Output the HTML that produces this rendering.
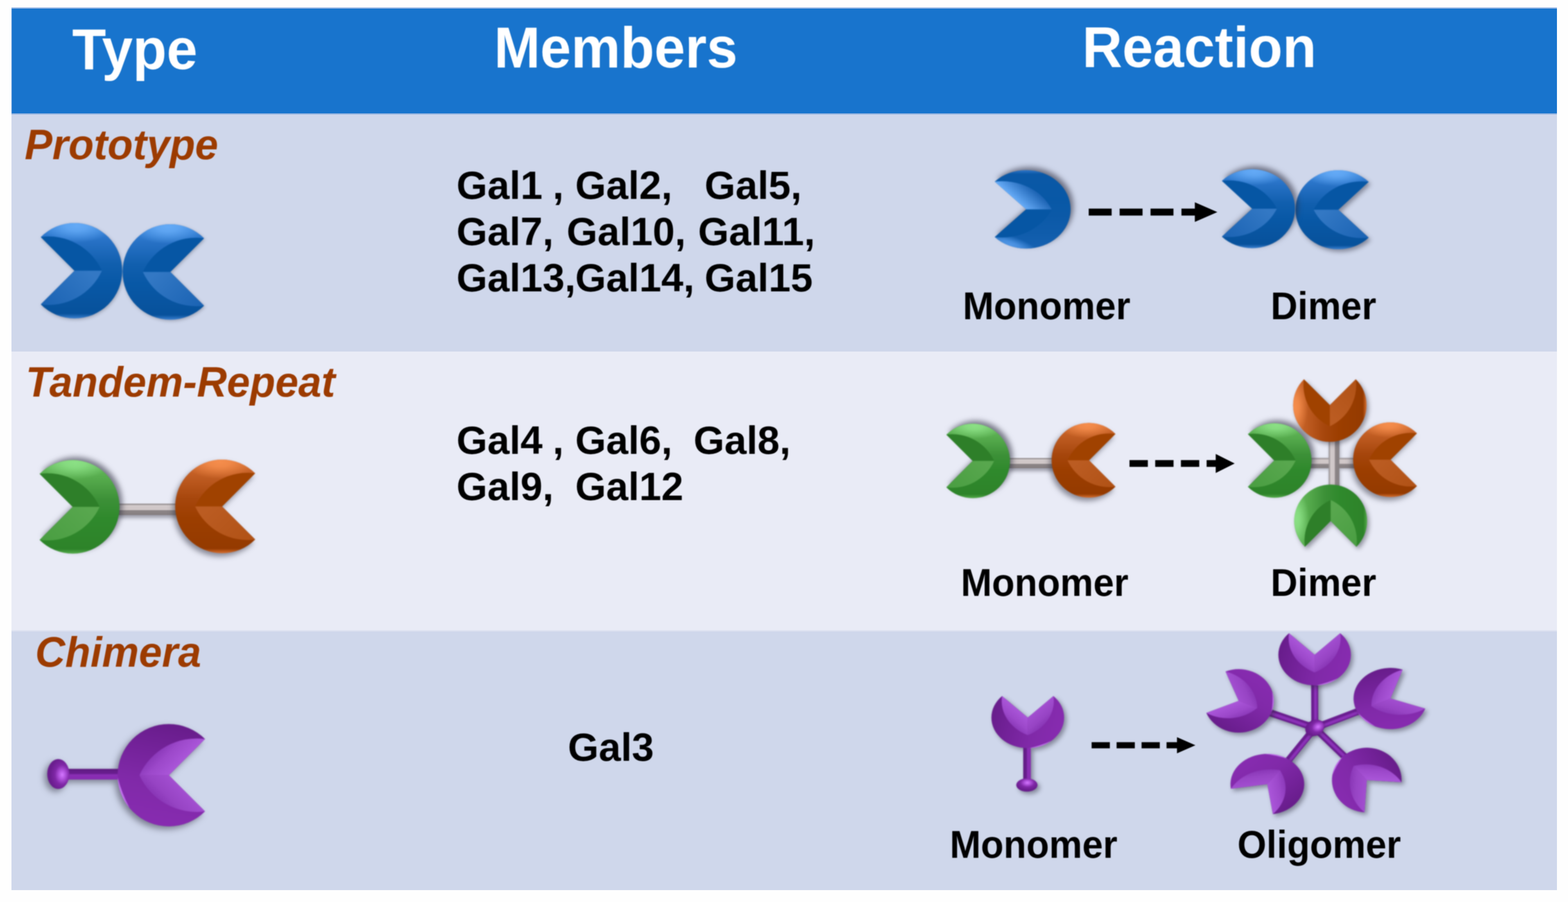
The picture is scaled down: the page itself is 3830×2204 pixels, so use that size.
<!DOCTYPE html>
<html lang="en"><head><meta charset="utf-8"><title>Galectin types</title>
<style>
html,body{margin:0;padding:0;background:#fefefe;}
body{width:3830px;height:2204px;overflow:hidden;position:relative;}
.row{position:absolute;left:28px;width:3775px;}
#hdr{top:18px;height:262px;background:#1874cd;box-shadow:inset 0 3px 0 #9dbce6, inset 0 -3px 0 #9bb7e0, inset 2px 0 0 #3a84d2;}
#r1{top:280px;height:579px;background:#cfd7eb;}
#r2{top:859px;height:681px;background:#e9ebf6;}
#r3{top:1540px;height:635px;background:#cfd7eb;box-shadow:inset 0 3px 0 #dce1f0;}
svg{position:absolute;left:0;top:0;width:3830px;height:2204px;}
text{font-family:"Liberation Sans",sans-serif;font-weight:700;}
.h{fill:#fff;} .t{fill:#9c3a00;font-style:italic;} .m{fill:#000;} .l{fill:#000;}
</style></head><body>
<div class="row" id="hdr"></div><div class="row" id="r1"></div><div class="row" id="r2"></div><div class="row" id="r3"></div>
<svg viewBox="0 0 3830 2204" width="3830" height="2204">
<defs>
<linearGradient id="blueO" gradientUnits="userSpaceOnUse" x1="0" y1="-1" x2="0" y2="1"><stop offset="0" stop-color="#3a86dc"/><stop offset="0.2" stop-color="#2670c4"/><stop offset="0.42" stop-color="#115fae"/><stop offset="0.62" stop-color="#0858a6"/><stop offset="0.95" stop-color="#07519b"/><stop offset="1" stop-color="#3a80d0"/></linearGradient>
<radialGradient id="blueH" gradientUnits="userSpaceOnUse" cx="0" cy="0" r="1" gradientTransform="translate(-0.05,-0.95) scale(0.78,0.36)"><stop offset="0" stop-color="#64aaf6" stop-opacity="1"/><stop offset="0.3" stop-color="#64aaf6" stop-opacity="0.85"/><stop offset="1" stop-color="#64aaf6" stop-opacity="0"/></radialGradient>
<linearGradient id="blueL" gradientUnits="userSpaceOnUse" x1="-0.3" y1="0" x2="0.5" y2="0.8"><stop offset="0" stop-color="#3378c4"/><stop offset="1" stop-color="#1c64b4"/></linearGradient>
<g id="pac_blue"><path d="M0,0 L0.707,-0.707 A1,1 0 1,0 0.707,0.707 Z" fill="url(#blueO)"/><path d="M0,0 L0.707,-0.707 A1,1 0 1,0 0.707,0.707 Z" fill="url(#blueH)"/><path d="M0,0 L0.707,-0.707 A1.23,1.23 0 0,0 -0.575,0 Z" fill="#0656a4"/><path d="M0,0 L-0.575,0 A1.23,1.23 0 0,0 0.707,0.707 Z" fill="url(#blueL)"/></g>
<linearGradient id="bluemO" gradientUnits="userSpaceOnUse" x1="0" y1="-1" x2="0" y2="1"><stop offset="0" stop-color="#1561b1"/><stop offset="0.2" stop-color="#0f5cab"/><stop offset="0.42" stop-color="#0b59a7"/><stop offset="0.62" stop-color="#0858a6"/><stop offset="0.95" stop-color="#0a58a6"/><stop offset="1" stop-color="#2f76c8"/></linearGradient>
<radialGradient id="bluemH" gradientUnits="userSpaceOnUse" cx="0" cy="0" r="1" gradientTransform="translate(0.35,-0.9) rotate(22) scale(0.72,0.22)"><stop offset="0" stop-color="#5096e6" stop-opacity="1"/><stop offset="0.3" stop-color="#5096e6" stop-opacity="0.85"/><stop offset="1" stop-color="#5096e6" stop-opacity="0"/></radialGradient>
<linearGradient id="bluemL" gradientUnits="userSpaceOnUse" x1="0.3" y1="0.3" x2="-0.02" y2="0.62"><stop offset="0" stop-color="#66abf7"/><stop offset="1" stop-color="#1f66b6"/></linearGradient>
<g id="pac_bluem"><path d="M0,0 L0.707,-0.707 A1,1 0 1,0 0.707,0.707 Z" fill="url(#bluemO)"/><path d="M0,0 L0.707,-0.707 A1,1 0 1,0 0.707,0.707 Z" fill="url(#bluemH)"/><path d="M0,0 L0.707,-0.707 A1.23,1.23 0 0,0 -0.575,0 Z" fill="#0656a4"/><path d="M0,0 L-0.575,0 A1.23,1.23 0 0,0 0.707,0.707 Z" fill="url(#bluemL)"/></g>
<linearGradient id="greenO" gradientUnits="userSpaceOnUse" x1="0" y1="-1" x2="0" y2="1"><stop offset="0" stop-color="#68bd5f"/><stop offset="0.2" stop-color="#55aa4c"/><stop offset="0.42" stop-color="#3c9037"/><stop offset="0.62" stop-color="#2f892c"/><stop offset="0.95" stop-color="#2d8329"/><stop offset="1" stop-color="#55ac4b"/></linearGradient>
<radialGradient id="greenH" gradientUnits="userSpaceOnUse" cx="0" cy="0" r="1" gradientTransform="translate(-0.05,-0.95) scale(0.78,0.36)"><stop offset="0" stop-color="#8be085" stop-opacity="1"/><stop offset="0.3" stop-color="#8be085" stop-opacity="0.85"/><stop offset="1" stop-color="#8be085" stop-opacity="0"/></radialGradient>
<linearGradient id="greenL" gradientUnits="userSpaceOnUse" x1="-0.3" y1="0" x2="0.5" y2="0.8"><stop offset="0" stop-color="#58a74e"/><stop offset="1" stop-color="#4a9e42"/></linearGradient>
<g id="pac_green"><path d="M0,0 L0.707,-0.707 A1,1 0 1,0 0.707,0.707 Z" fill="url(#greenO)"/><path d="M0,0 L0.707,-0.707 A1,1 0 1,0 0.707,0.707 Z" fill="url(#greenH)"/><path d="M0,0 L0.707,-0.707 A1.23,1.23 0 0,0 -0.575,0 Z" fill="#2e7f29"/><path d="M0,0 L-0.575,0 A1.23,1.23 0 0,0 0.707,0.707 Z" fill="url(#greenL)"/></g>
<linearGradient id="orangeO" gradientUnits="userSpaceOnUse" x1="0" y1="-1" x2="0" y2="1"><stop offset="0" stop-color="#d26c30"/><stop offset="0.2" stop-color="#bd5a20"/><stop offset="0.42" stop-color="#a6460c"/><stop offset="0.62" stop-color="#9c3e00"/><stop offset="0.95" stop-color="#943a00"/><stop offset="1" stop-color="#d87030"/></linearGradient>
<radialGradient id="orangeH" gradientUnits="userSpaceOnUse" cx="0" cy="0" r="1" gradientTransform="translate(-0.05,-0.95) scale(0.78,0.36)"><stop offset="0" stop-color="#f58d4c" stop-opacity="1"/><stop offset="0.3" stop-color="#f58d4c" stop-opacity="0.85"/><stop offset="1" stop-color="#f58d4c" stop-opacity="0"/></radialGradient>
<linearGradient id="orangeL" gradientUnits="userSpaceOnUse" x1="-0.3" y1="0" x2="0.5" y2="0.8"><stop offset="0" stop-color="#bb5c22"/><stop offset="1" stop-color="#b15216"/></linearGradient>
<g id="pac_orange"><path d="M0,0 L0.707,-0.707 A1,1 0 1,0 0.707,0.707 Z" fill="url(#orangeO)"/><path d="M0,0 L0.707,-0.707 A1,1 0 1,0 0.707,0.707 Z" fill="url(#orangeH)"/><path d="M0,0 L0.707,-0.707 A1.23,1.23 0 0,0 -0.575,0 Z" fill="#a04200"/><path d="M0,0 L-0.575,0 A1.23,1.23 0 0,0 0.707,0.707 Z" fill="url(#orangeL)"/></g>
<linearGradient id="purO" gradientUnits="userSpaceOnUse" x1="0.2" y1="-1" x2="-0.2" y2="1"><stop offset="0" stop-color="#671c8a"/><stop offset="0.3" stop-color="#74229a"/><stop offset="0.6" stop-color="#8029a8"/><stop offset="1" stop-color="#872bb0"/></linearGradient>
<linearGradient id="purU" gradientUnits="userSpaceOnUse" x1="0.35" y1="-0.35" x2="0" y2="-0.7"><stop offset="0" stop-color="#aa56d9"/><stop offset="0.6" stop-color="#9c48ca"/><stop offset="1" stop-color="#8a38b8"/></linearGradient>
<linearGradient id="purL" gradientUnits="userSpaceOnUse" x1="0.35" y1="0.35" x2="0" y2="0.7"><stop offset="0" stop-color="#a24ed0"/><stop offset="0.6" stop-color="#9744c4"/><stop offset="1" stop-color="#8835b5"/></linearGradient>
<radialGradient id="purRim" gradientUnits="userSpaceOnUse" cx="0" cy="0" r="1"><stop offset="0.9" stop-color="#c272f0" stop-opacity="0"/><stop offset="1" stop-color="#c272f0" stop-opacity="1"/></radialGradient>
<radialGradient id="purBall" gradientUnits="userSpaceOnUse" cx="0.35" cy="0.05" r="1.1"><stop offset="0" stop-color="#d478ff"/><stop offset="0.25" stop-color="#b455e0"/><stop offset="0.6" stop-color="#7f27a6"/><stop offset="1" stop-color="#6a1d8e"/></radialGradient>
<linearGradient id="purStem" gradientUnits="userSpaceOnUse" x1="0" y1="-1" x2="0" y2="1"><stop offset="0" stop-color="#5e1a80"/><stop offset="0.45" stop-color="#6a1e90"/><stop offset="0.55" stop-color="#8a2eb4"/><stop offset="1" stop-color="#862bb0"/></linearGradient>
<g id="pac_purple"><path d="M0,0 L0.707,-0.707 A1,1 0 1,0 0.707,0.707 Z" fill="url(#purO)"/><path d="M-0.999,0.04 A1,1 0 0,0 -0.766,0.643 A2.6,2.6 0 0,1 -0.999,0.04 Z" fill="#c878f4" opacity="0.9"/><path d="M0,0 L0.707,-0.707 A1.23,1.23 0 0,0 -0.575,0 Z" fill="url(#purU)"/><path d="M0,0 L-0.575,0 A1.23,1.23 0 0,0 0.707,0.707 Z" fill="url(#purL)"/></g>
<linearGradient id="barH" gradientUnits="userSpaceOnUse" x1="0" y1="0" x2="0" y2="1"><stop offset="0" stop-color="#9e989a"/><stop offset="0.12" stop-color="#a9a2a4"/><stop offset="0.16" stop-color="#d2cacb"/><stop offset="0.55" stop-color="#cfc6c7"/><stop offset="0.6" stop-color="#8d8688"/><stop offset="1" stop-color="#857e80"/></linearGradient>
<filter id="shA" x="-30%" y="-30%" width="160%" height="160%" color-interpolation-filters="sRGB"><feGaussianBlur in="SourceAlpha" stdDeviation="7" result="b"/><feOffset in="b" dx="7" dy="-7" result="o"/><feFlood flood-color="#2a2a3a" flood-opacity="0.58"/><feComposite in2="o" operator="in" result="s"/><feGaussianBlur in="SourceGraphic" stdDeviation="1.6" result="g"/><feMerge><feMergeNode in="s"/><feMergeNode in="g"/></feMerge></filter>
<filter id="shB" x="-30%" y="-30%" width="160%" height="160%" color-interpolation-filters="sRGB"><feGaussianBlur in="SourceAlpha" stdDeviation="7" result="b"/><feOffset in="b" dx="-5" dy="8" result="o"/><feFlood flood-color="#2a2a3a" flood-opacity="0.5"/><feComposite in2="o" operator="in" result="s"/><feGaussianBlur in="SourceGraphic" stdDeviation="1.6" result="g"/><feMerge><feMergeNode in="s"/><feMergeNode in="g"/></feMerge></filter>
<filter id="shC" x="-30%" y="-30%" width="160%" height="160%" color-interpolation-filters="sRGB"><feGaussianBlur in="SourceAlpha" stdDeviation="6" result="b"/><feOffset in="b" dx="5" dy="6" result="o"/><feFlood flood-color="#2a2a3a" flood-opacity="0.45"/><feComposite in2="o" operator="in" result="s"/><feGaussianBlur in="SourceGraphic" stdDeviation="1.6" result="g"/><feMerge><feMergeNode in="s"/><feMergeNode in="g"/></feMerge></filter>
<filter id="shD" x="-30%" y="-30%" width="160%" height="160%" color-interpolation-filters="sRGB"><feGaussianBlur in="SourceAlpha" stdDeviation="8" result="b"/><feOffset in="b" dx="-7" dy="7" result="o"/><feFlood flood-color="#2a2a3a" flood-opacity="0.5"/><feComposite in2="o" operator="in" result="s"/><feGaussianBlur in="SourceGraphic" stdDeviation="1.6" result="g"/><feMerge><feMergeNode in="s"/><feMergeNode in="g"/></feMerge></filter>
<filter id="shE" x="-30%" y="-30%" width="160%" height="160%" color-interpolation-filters="sRGB"><feGaussianBlur in="SourceAlpha" stdDeviation="6" result="b"/><feOffset in="b" dx="6" dy="6" result="o"/><feFlood flood-color="#2a2a3a" flood-opacity="0.45"/><feComposite in2="o" operator="in" result="s"/><feGaussianBlur in="SourceGraphic" stdDeviation="1.6" result="g"/><feMerge><feMergeNode in="s"/><feMergeNode in="g"/></feMerge></filter>
<filter id="shF" x="-30%" y="-30%" width="160%" height="160%" color-interpolation-filters="sRGB"><feGaussianBlur in="SourceAlpha" stdDeviation="4" result="b"/><feOffset in="b" dx="2" dy="3" result="o"/><feFlood flood-color="#2a2a3a" flood-opacity="0.3"/><feComposite in2="o" operator="in" result="s"/><feGaussianBlur in="SourceGraphic" stdDeviation="1.6" result="g"/><feMerge><feMergeNode in="s"/><feMergeNode in="g"/></feMerge></filter>
<filter id="shBar" x="-20%" y="-150%" width="140%" height="400%" color-interpolation-filters="sRGB"><feGaussianBlur in="SourceAlpha" stdDeviation="5" result="b"/><feOffset in="b" dx="3" dy="7" result="o"/><feFlood flood-color="#2a2a3a" flood-opacity="0.4"/><feComposite in2="o" operator="in" result="s"/><feGaussianBlur in="SourceGraphic" stdDeviation="1.2" result="g"/><feMerge><feMergeNode in="s"/><feMergeNode in="g"/></feMerge></filter>
</defs>
<filter id="soft" x="-5%" y="-50%" width="110%" height="200%"><feGaussianBlur stdDeviation="0.9"/></filter>
<filter id="tsoft" x="-5%" y="-20%" width="110%" height="140%"><feGaussianBlur stdDeviation="1"/></filter>
<g filter="url(#tsoft)">
<text transform="translate(176.2,168.8) scale(1,1.035)" font-size="135.5" class="h">Type</text>
<text transform="translate(1206.7,164.5) scale(1,1.035)" font-size="135.5" class="h">Members</text>
<text transform="translate(2643.4,163.5) scale(1,1.035)" font-size="135.5" class="h">Reaction</text>
</g>
<g filter="url(#tsoft)">
<text transform="translate(60.2,389.4) scale(1,1.03)" font-size="101.3" class="t">Prototype</text>
<text transform="translate(62.7,969.4) scale(1,1.03)" font-size="101.3" class="t">Tandem-Repeat</text>
<text transform="translate(86,1629) scale(1,1.03)" font-size="101.3" class="t">Chimera</text>
</g>
<g filter="url(#tsoft)">
<text x="1115" y="486.2" font-size="97" class="m">Gal1</text>
<text x="1350" y="486.2" font-size="97" class="m">,</text>
<text x="1405" y="486.2" font-size="97" class="m">Gal2,</text>
<text x="1721" y="486.2" font-size="97" class="m">Gal5,</text>
<text x="1115" y="599.2" font-size="97" class="m">Gal7,</text>
<text x="1384" y="599.2" font-size="97" class="m">Gal10,</text>
<text x="1705" y="599.2" font-size="97" class="m">Gal11,</text>
<text x="1115" y="712.3" font-size="97" class="m">Gal13,</text>
<text x="1405" y="712.3" font-size="97" class="m">Gal14,</text>
<text x="1721" y="712.3" font-size="97" class="m">Gal15</text>
<text x="1115" y="1109.2" font-size="97" class="m">Gal4</text>
<text x="1350" y="1109.2" font-size="97" class="m">,</text>
<text x="1405" y="1109.2" font-size="97" class="m">Gal6,</text>
<text x="1694" y="1109.2" font-size="97" class="m">Gal8,</text>
<text x="1115" y="1221.9" font-size="97" class="m">Gal9,</text>
<text x="1405" y="1221.9" font-size="97" class="m">Gal12</text>
<text x="1387" y="1859" font-size="97" class="m">Gal3</text>
</g>
<g filter="url(#tsoft)">
<text transform="translate(2351.7,779.6) scale(1,1.03)" font-size="91" class="l">Monomer</text>
<text transform="translate(3103.7,779.6) scale(1,1.03)" font-size="91" class="l">Dimer</text>
<text transform="translate(2347,1456.2) scale(1,1.03)" font-size="91" class="l">Monomer</text>
<text transform="translate(3103.7,1456.2) scale(1,1.03)" font-size="91" class="l">Dimer</text>
<text transform="translate(2320,2096.2) scale(1,1.03)" font-size="91" class="l">Monomer</text>
<text transform="translate(3022.6,2096.2) scale(1,1.03)" font-size="91" class="l">Oligomer</text>
</g>
<g filter="url(#shF)">
<use href="#pac_blue" transform="translate(416,664.6)  scale(116.6,116.6)"/>
<use href="#pac_blue" transform="translate(182,661.5)  scale(116.5,116.5) scale(-1,1)"/>
</g>
<g filter="url(#shA)"><use href="#pac_bluem" transform="translate(2506.5,511.5)  scale(108.5,95.8) rotate(180)"/></g>
<g fill="#000" filter="url(#soft)"><rect x="2659.3" y="509.7" width="56" height="17"/><rect x="2734.8" y="509.7" width="56" height="17"/><rect x="2810.3" y="509.7" width="56" height="17"/><rect x="2885.8" y="509.7" width="34.7" height="17"/><path d="M2918.5,494.2 L2973.5,518.2 L2918.5,542.2 Z"/></g>
<g filter="url(#shC)"><use href="#pac_blue" transform="translate(3269,512.5)  scale(104.8,96.6)"/></g>
<g filter="url(#shA)"><use href="#pac_blue" transform="translate(3058.6,510)  scale(104.7,96.4) scale(-1,1)"/></g>
<g filter="url(#shBar)"><g transform="translate(286,1230.5) scale(148,28)"><rect x="0" y="0" width="1" height="1" fill="url(#barH)"/></g></g>
<g filter="url(#shA)"><use href="#pac_green" transform="translate(177.6,1238.5)  scale(114.3,114.3) scale(-1,1)"/></g>
<g filter="url(#shB)"><use href="#pac_orange" transform="translate(542.4,1237.4)  scale(114.4,114.4)"/></g>
<g filter="url(#shBar)"><g transform="translate(2462,1119) scale(112,25)"><rect x="0" y="0" width="1" height="1" fill="url(#barH)"/></g></g>
<g filter="url(#shA)"><use href="#pac_green" transform="translate(2375.9,1126.3)  scale(91,91) scale(-1,1)"/></g>
<g filter="url(#shB)"><use href="#pac_orange" transform="translate(2660,1124.7)  scale(91.3,91.3)"/></g>
<g fill="#000" filter="url(#soft)"><rect x="2758.9" y="1124.25" width="44.8" height="16.5"/><rect x="2821.7" y="1124.25" width="44.8" height="16.5"/><rect x="2884.5" y="1124.25" width="44.8" height="16.5"/><rect x="2947.3" y="1124.25" width="24.2" height="16.5"/><path d="M2969.5,1109.35 L3015.8,1132.5 L2969.5,1155.65 Z"/></g>
<g filter="url(#shF)"><g transform="translate(3198,1119) scale(112,25)"><rect x="0" y="0" width="1" height="1" fill="url(#barH)"/></g>
<g transform="translate(3258.5,1131.5) rotate(-90) translate(-58,-13)"><g transform="translate(0,0) scale(116,26)"><rect x="0" y="0" width="1" height="1" fill="url(#barH)"/></g></g>
</g>
<g filter="url(#shA)"><use href="#pac_green" transform="translate(3112.5,1125.2)  scale(91,91) scale(-1,1)"/></g>
<g filter="url(#shB)"><use href="#pac_orange" transform="translate(3396.5,1123.3)  scale(91.3,91.3)"/></g>
<g filter="url(#shC)"><use href="#pac_orange" transform="translate(3248.3,990)  scale(89.6,89.6) rotate(-90)"/></g>
<g filter="url(#shC)"><use href="#pac_green" transform="translate(3250.3,1273)  scale(89,89) rotate(90) scale(1,-1)"/></g>
<linearGradient id="purStemU" gradientUnits="userSpaceOnUse" x1="0" y1="0" x2="0" y2="1"><stop offset="0" stop-color="#5e1a80"/><stop offset="0.45" stop-color="#6a1e90"/><stop offset="0.55" stop-color="#8a2eb4"/><stop offset="1" stop-color="#862bb0"/></linearGradient>
<g filter="url(#shD)"><g transform="translate(412.4,1894.2) scale(1,1) rotate(0)"><g transform="translate(-247,-15.5) scale(130,26)"><rect x="0" y="0" width="1" height="1" fill="url(#purStemU)"/></g><g transform="translate(-270,-3) scale(27,36.5)"><circle r="1" fill="url(#purBall)"/></g><g transform="scale(125)"><use href="#pac_purple"/></g></g></g>
<g filter="url(#shE)"><g transform="translate(2510.4,1753.4) scale(0.71,0.597) rotate(-90)"><g transform="translate(-253,-15.5) scale(136,26)"><rect x="0" y="0" width="1" height="1" fill="url(#purStemU)"/></g><g transform="translate(-276,-3) scale(27,36.5)"><circle r="1" fill="url(#purBall)"/></g><g transform="scale(125)"><use href="#pac_purple"/></g></g></g>
<g fill="#000" filter="url(#soft)"><rect x="2666.4" y="1813.5" width="44.5" height="15"/><rect x="2727.4" y="1813.5" width="44.5" height="15"/><rect x="2788.4" y="1813.5" width="44.5" height="15"/><rect x="2849.4" y="1813.5" width="27.5" height="15"/><path d="M2874.9,1801.25 L2919.9,1821 L2874.9,1840.75 Z"/></g>
<g filter="url(#shE)"><line x1="3211.5" y1="1778.5" x2="3211.1" y2="1667.23" stroke="#6a1d90" stroke-width="17" stroke-linecap="round"/><line x1="3211.5" y1="1778.5" x2="3211.1" y2="1667.23" stroke="#8a30b6" stroke-width="7" stroke-linecap="round" transform="translate(2,1.5)"/><line x1="3211.5" y1="1778.5" x2="3323.313" y2="1735.955" stroke="#6a1d90" stroke-width="17" stroke-linecap="round"/><line x1="3211.5" y1="1778.5" x2="3323.313" y2="1735.955" stroke="#8a30b6" stroke-width="7" stroke-linecap="round" transform="translate(2,1.5)"/><line x1="3211.5" y1="1778.5" x2="3288.11" y2="1852.503" stroke="#6a1d90" stroke-width="17" stroke-linecap="round"/><line x1="3211.5" y1="1778.5" x2="3288.11" y2="1852.503" stroke="#8a30b6" stroke-width="7" stroke-linecap="round" transform="translate(2,1.5)"/><line x1="3211.5" y1="1778.5" x2="3143.553" y2="1862.425" stroke="#6a1d90" stroke-width="17" stroke-linecap="round"/><line x1="3211.5" y1="1778.5" x2="3143.553" y2="1862.425" stroke="#8a30b6" stroke-width="7" stroke-linecap="round" transform="translate(2,1.5)"/><line x1="3211.5" y1="1778.5" x2="3096.737" y2="1739.629" stroke="#6a1d90" stroke-width="17" stroke-linecap="round"/><line x1="3211.5" y1="1778.5" x2="3096.737" y2="1739.629" stroke="#8a30b6" stroke-width="7" stroke-linecap="round" transform="translate(2,1.5)"/></g>
<g filter="url(#shE)"><g transform="translate(3211.1,1600) scale(88.5,74.7) rotate(-90)"><use href="#pac_purple"/></g></g>
<g filter="url(#shE)"><g transform="translate(3396.3,1706.8) scale(90,74.7) rotate(-25.7)"><use href="#pac_purple"/></g></g>
<g filter="url(#shE)"><g transform="translate(3338.5,1906) scale(85,79) rotate(48.8)"><use href="#pac_purple"/></g></g>
<g filter="url(#shE)"><g transform="translate(3095.6,1916.1) scale(90,74) rotate(126.3)"><use href="#pac_purple"/></g></g>
<g filter="url(#shE)"><g transform="translate(3025.8,1712.6) scale(85.5,77.5) rotate(202.8)"><use href="#pac_purple"/></g></g>
<g filter="url(#shF)"><g transform="translate(3211.5,1778.5) rotate(-25) scale(24,19)"><circle r="1" fill="url(#purBall)"/></g></g>
</svg></body></html>
